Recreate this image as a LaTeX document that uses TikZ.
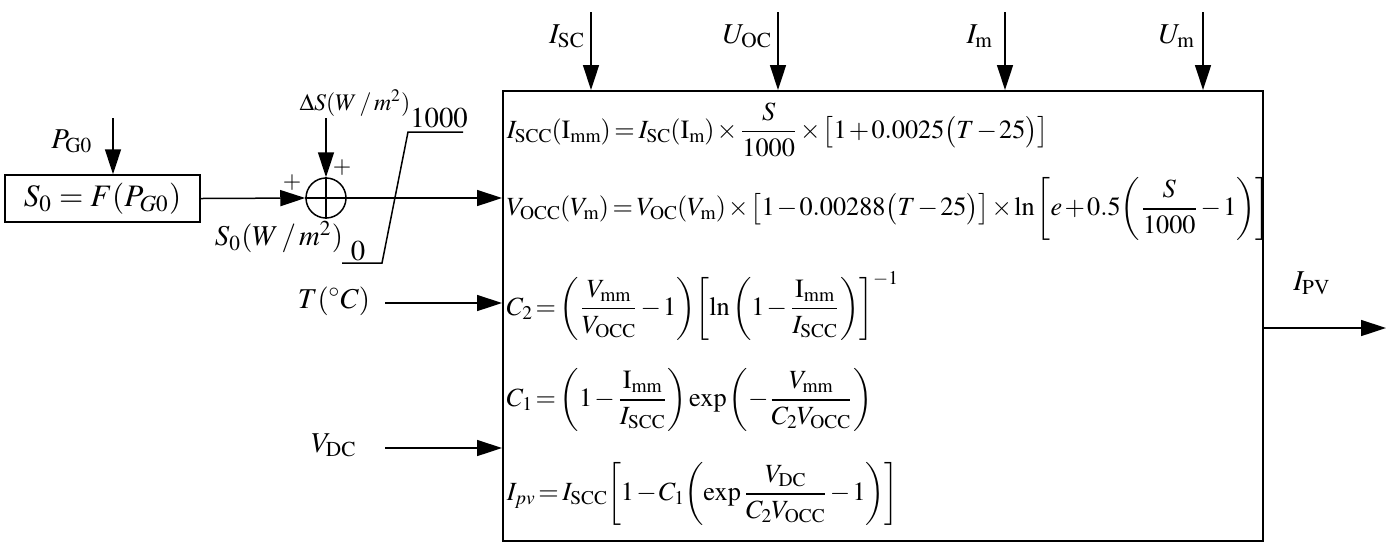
\documentclass[tikz,border=0pt]{standalone}
\usepackage{amsmath}
\usepackage{mathptmx}
\usetikzlibrary{arrows.meta}
\newcommand{\rmsub}[1]{\mathrm{#1}}
\newcommand{\eqspacing}{\medmuskip=1.5mu\relax\thickmuskip=2.5mu\relax\thinmuskip=1.5mu\relax\scriptspace=0pt\relax}
\begin{document}
\begin{tikzpicture}[x=0.4pt,y=-0.4pt,
  line width=0.6pt,
  arr/.style={-{Triangle[length=10pt,width=6.4pt]}},
  lbl/.style={inner sep=0pt,font=\fontsize{11.5}{13}\selectfont},
  eqn/.style={inner sep=0pt,anchor=west,font=\fontsize{10.5}{12}\selectfont},
  small/.style={inner sep=0pt,font=\fontsize{9.5}{11}\selectfont}]
\useasboundingbox (0,0) rectangle (1390,555);
% main block
\node (main) [draw, anchor=north west, minimum width=304pt, minimum height=180pt, inner sep=0pt] at (502,90) {};
% top inputs
\coordinate (isc0) at (591,12);
\coordinate (uoc0) at (778,12);
\coordinate (im0) at (1005,12);
\coordinate (um0) at (1203,12);
\draw[arr] (isc0) -- (isc0 |- main.north);
\draw[arr] (uoc0) -- (uoc0 |- main.north);
\draw[arr] (im0) -- (im0 |- main.north);
\draw[arr] (um0) -- (um0 |- main.north);
\node[lbl,anchor=east] (lisc) at (586,36) {$I_{\rmsub{SC}}$};
\node[lbl,anchor=east] (luoc) at (773,36) {$U_{\rmsub{OC}}$};
\node[lbl,anchor=east] (lim) at (994,36) {$I_{\rmsub{m}}$};
\node[lbl,anchor=east] (lum) at (1196,36) {$U_{\rmsub{m}}$};
% S0 block
\node (sbox) [draw, minimum width=78pt, minimum height=18.8pt, inner sep=0pt, font=\fontsize{12.5}{14}\selectfont] at (102.5,198.5) {$S_0=F(P_{G0})$};
\coordinate (pg0) at (113,118);
\draw[arr] (pg0) -- (pg0 |- sbox.north);
\node[lbl] (lpg) at (72,141) {$P_{\rmsub{G0}}$};
% summing junction
\node (sum) [draw, circle, minimum size=16pt, inner sep=0pt] at (326,198) {};
\draw (sum.north) -- (sum.south) (sum.west) -- (sum.east);
\draw[arr] (sbox.east) -- (sum.west);
\coordinate (ds0) at (326,118);
\draw[arr] (ds0) -- (sum.north);
\node[small] (lds) at (355,103) {$\Delta S(W\,/\,m^2)$};
\node[small] (p1) at (292,183) {$+$};
\node[small] (p2) at (342,168) {$+$};
\node[lbl] (ls0) at (279,237) {$S_0(W\,/\,m^2)$};
% saturation
\draw (342,263) -- (382,263) -- (408,132) -- (463,132);
\node[lbl] (l1000) at (439,118) {$1000$};
\node[lbl] (l0) at (358,251) {$0$};
\draw[arr] (sum.east) -- (sum.east -| main.west);
% other inputs
\coordinate (t0) at (385,303);
\coordinate (v0) at (385,448);
\draw[arr] (t0) -- (t0 -| main.west);
\draw[arr] (v0) -- (v0 -| main.west);
\node[lbl] (lt) at (334,301) {$T(^{\circ}C)$};
\node[lbl] (lv) at (334,445) {$V_{\rmsub{DC}}$};
% output
\coordinate (o0) at (1262,328);
\coordinate (o1) at (1386,328);
\draw[arr] (o0) -- (o1);
\node[lbl] (lipv) at (1312,283) {$I_{\rmsub{PV}}$};
% equations
\node[eqn] (e1) at (506,130) {$\eqspacing\displaystyle I_{\rmsub{SCC}}(\mathrm{I}_{\rmsub{mm}})=I_{\rmsub{SC}}(\mathrm{I}_{\rmsub{m}})\times\frac{S}{1000}\times\bigl[1+0.0025\bigl(T-25\bigr)\bigr]$};
\node[eqn] (e2) at (506,209) {$\eqspacing\displaystyle V_{\rmsub{OCC}}(V_{\rmsub{m}})=V_{\rmsub{OC}}(V_{\rmsub{m}})\times\bigl[1-0.00288\bigl(T-25\bigr)\bigr]\times\ln{\left[e+0.5{\left(\frac{S}{1000}-1\right)}\right]}$};
\node[eqn] (e3) at (506,306) {$\eqspacing\displaystyle C_2={\left(\frac{V_{\rmsub{mm}}}{V_{\rmsub{OCC}}}-1\right)}{\left[\ln{\left(1-\frac{\mathrm{I}_{\rmsub{mm}}}{I_{\rmsub{SCC}}}\right)}\right]}^{-1}$};
\node[eqn] (e4) at (506,400) {$\eqspacing\displaystyle C_1={\left(1-\frac{\mathrm{I}_{\rmsub{mm}}}{I_{\rmsub{SCC}}}\right)}\exp{\left(-\frac{V_{\rmsub{mm}}}{C_2V_{\rmsub{OCC}}}\right)}$};
\node[eqn] (e5) at (506,494) {$\eqspacing\displaystyle I_{pv}=I_{\rmsub{SCC}}{\left[1-C_1{\left(\exp\frac{V_{\rmsub{DC}}}{C_2V_{\rmsub{OCC}}}-1\right)}\right]}$};
\end{tikzpicture}
\end{document}
